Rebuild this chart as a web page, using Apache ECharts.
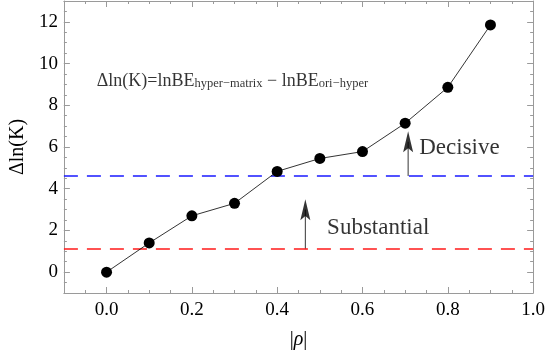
<!DOCTYPE html>
<html>
<head>
<meta charset="utf-8">
<script src="https://cdn.jsdelivr.net/npm/echarts@6/dist/echarts.min.js"></script>
<style>
  html, body { margin: 0; padding: 0; background: #fff; }
  #chart { width: 548px; height: 355px; }
</style>
</head>
<body>
<div id="chart"></div>
<script>
// data
var rho = [0.0, 0.1, 0.2, 0.3, 0.4, 0.5, 0.6, 0.7, 0.8, 0.9];
var dlnK = [0.0, 1.4, 2.7, 3.3, 4.83, 5.45, 5.78, 7.14, 8.86, 11.85];
var substantialLevel = 1.1;   // ln 3
var decisiveLevel = 4.61;     // ln 100
// arrows: [x, from, to]
var substantialArrow = [0.466, 1.1, 3.5];
var decisiveArrow = [0.707, 4.61, 6.75];
var xLabels = [0.0, 0.2, 0.4, 0.6, 0.8, 1.0];
var yLabels = [0, 2, 4, 6, 8, 10, 12];
var xMajor = [0.0, 0.2, 0.4, 0.6, 0.8];
var yMajor = [0, 2, 4, 6, 8, 10, 12];

var frameColor = '#9a9a9a';
var textColor = '#000';
var serif = 'Liberation Serif';

var chart = echarts.init(document.getElementById('chart'));

function xAxisPair (pos, withLabels) {
    return [
        {
            type: 'value', position: pos, min: -0.1, max: 1.0, interval: 0.05,
            axisLine: { show: true, onZero: false, lineStyle: { color: frameColor, width: 1 } },
            axisTick: { show: true, inside: true, length: 3, lineStyle: { color: frameColor } },
            axisLabel: withLabels ? {
                show: true, customValues: xLabels, margin: 8,
                color: textColor, fontFamily: serif, fontSize: 19,
                formatter: function (v) { return v.toFixed(1); }
            } : { show: false },
            splitLine: { show: false },
            name: withLabels ? '{a||}{r|ρ}{a||}' : '',
            nameLocation: 'middle', nameGap: 37,
            nameTextStyle: {
                rich: {
                    a: { fontFamily: serif, fontSize: 20, color: textColor },
                    r: { fontFamily: serif, fontSize: 20, fontStyle: 'italic', color: textColor }
                }
            }
        },
        {
            type: 'value', position: pos, min: -0.1, max: 1.0,
            axisLine: { show: false, onZero: false },
            axisTick: { show: true, inside: true, length: 6, customValues: xMajor, lineStyle: { color: frameColor } },
            axisLabel: { show: false },
            splitLine: { show: false }
        }
    ];
}

function yAxisPair (pos, withLabels) {
    return [
        {
            type: 'value', position: pos, min: -1, max: 13, interval: 0.5,
            axisLine: { show: true, onZero: false, lineStyle: { color: frameColor, width: 1 } },
            axisTick: { show: true, inside: true, length: 3, lineStyle: { color: frameColor } },
            axisLabel: withLabels ? {
                show: true, customValues: yLabels, margin: 6,
                color: textColor, fontFamily: serif, fontSize: 19
            } : { show: false },
            splitLine: { show: false },
            name: withLabels ? 'Δln(K)' : '',
            nameLocation: 'middle', nameGap: 25, nameRotate: 90,
            nameTextStyle: { fontFamily: serif, fontSize: 20, color: textColor }
        },
        {
            type: 'value', position: pos, min: -1, max: 13,
            axisLine: { show: false, onZero: false },
            axisTick: { show: true, inside: true, length: 6, customValues: yMajor, lineStyle: { color: frameColor } },
            axisLabel: { show: false },
            splitLine: { show: false }
        }
    ];
}

var dataPoints = rho.map(function (r, i) { return [r, dlnK[i]]; });

var option = {
    animation: false,
    backgroundColor: '#fff',
    grid: { left: 53, right: 13, top: 1, bottom: 58, containLabel: false },
    xAxis: xAxisPair('bottom', true).concat(xAxisPair('top', false)),
    yAxis: yAxisPair('left', true).concat(yAxisPair('right', false)),
    series: [
        {
            type: 'line',
            data: dataPoints,
            symbol: 'circle',
            symbolSize: 11,
            itemStyle: { color: '#000' },
            lineStyle: { color: '#000', width: 0.8 },
            z: 5,
            markLine: {
                silent: true,
                symbol: 'none',
                label: { show: false },
                data: [
                    { yAxis: decisiveLevel, lineStyle: { color: '#1a1aff', type: [14, 9], width: 1.6 } },
                    { yAxis: substantialLevel, lineStyle: { color: '#ff1a1a', type: [14, 9], width: 1.6 } }
                ]
            }
        },
        // arrow shafts
        {
            type: 'line', symbol: 'none',
            data: [[decisiveArrow[0], decisiveArrow[1]], [decisiveArrow[0], decisiveArrow[2] - 0.5]],
            lineStyle: { color: '#000', width: 0.8 }
        },
        {
            type: 'line', symbol: 'none',
            data: [[substantialArrow[0], substantialArrow[1]], [substantialArrow[0], substantialArrow[2] - 0.5]],
            lineStyle: { color: '#000', width: 0.8 }
        },
        // arrow heads
        {
            type: 'scatter',
            data: [[decisiveArrow[0], decisiveArrow[2]], [substantialArrow[0], substantialArrow[2]]],
            symbol: 'path://M5,0L10,20L5,16L0,20Z',
            symbolSize: [10, 21],
            symbolOffset: [0, '50%'],
            itemStyle: { color: '#000' }
        },
        // text labels
        {
            type: 'scatter',
            symbolSize: 0,
            data: [
                { name: 'Decisive', value: [0.733, 5.95] },
                { name: 'Substantial', value: [0.517, 2.13] }
            ],
            label: {
                show: true, position: 'right', distance: 0,
                formatter: '{b}', color: textColor, fontFamily: serif, fontSize: 23
            }
        },
        {
            type: 'scatter',
            symbolSize: 0,
            data: [{ name: 'formula', value: [0.295, 9.24] }],
            label: {
                show: true, position: 'inside',
                formatter: '{m|Δln(K)=lnBE}{s|hyper−matrix}{m| − lnBE}{s|ori−hyper}',
                rich: {
                    m: { fontFamily: serif, fontSize: 18, color: textColor, verticalAlign: 'bottom', lineHeight: 22 },
                    s: { fontFamily: serif, fontSize: 12.5, color: textColor, verticalAlign: 'bottom', lineHeight: 18 }
                }
            }
        }
    ]
};

chart.setOption(option);
</script>
</body>
</html>
